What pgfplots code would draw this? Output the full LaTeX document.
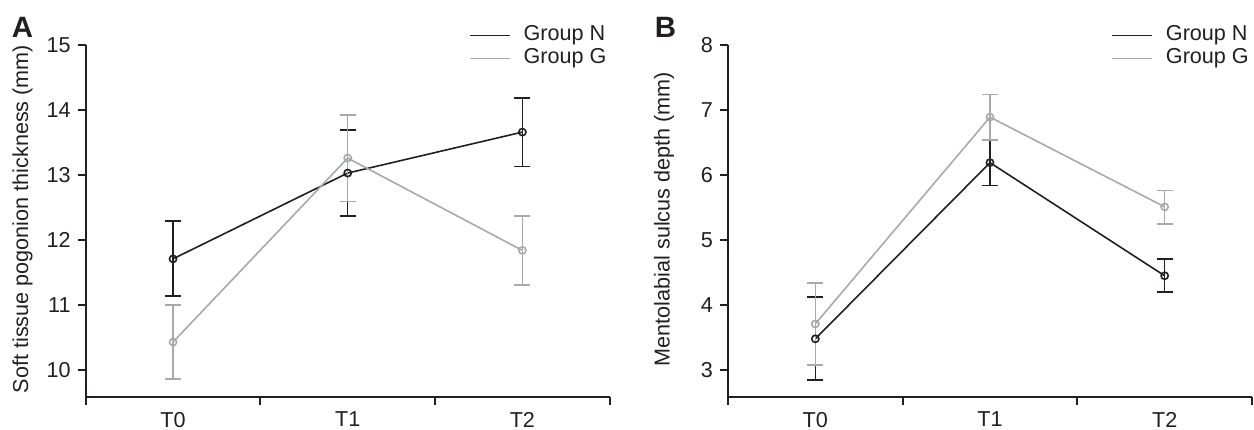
\documentclass[border=0pt]{standalone}
\usepackage{fontspec}
\setmainfont{Liberation Sans}
\usepackage{pgfplots}
\pgfplotsset{compat=1.18}
\usepackage{pgfplotstable}

\definecolor{gn}{HTML}{231F20}
\definecolor{gg}{HTML}{A7A9AC}
\newcommand{\lab}{\fontsize{10.8}{13}\selectfont}

% panel A: soft tissue pogonion thickness
\pgfplotstableread{
x y ep em
0 11.71 0.58 0.57
1 13.03 0.66 0.66
2 13.66 0.52 0.53
}\aN
\pgfplotstableread{
x y ep em
0 10.43 0.57 0.57
1 13.26 0.66 0.67
2 11.84 0.53 0.53
}\aG
% panel B: mentolabial sulcus depth
\pgfplotstableread{
x y ep em
0 3.48 0.64 0.63
1 6.19 0.35 0.35
2 4.45 0.26 0.25
}\bN
\pgfplotstableread{
x y ep em
0 3.71 0.63 0.63
1 6.89 0.35 0.35
2 5.51 0.25 0.26
}\bG

\pgfplotsset{
  panel/.style={
    scale only axis, width=262pt, height=176pt,
    anchor=south west,
    xmin=-0.5, xmax=2.5,
    axis x line=bottom, axis y line=left,
    axis line style={-, line width=0.9pt, color=gn},
    tick align=outside, major tick length=4pt,
    tick style={line width=0.9pt, color=gn},
    xtick={-0.5,0.5,1.5,2.5}, xticklabels={,,,},
    extra x ticks={0,1,2}, extra x tick labels={T0,T1,T2},
    extra x tick style={major tick length=0pt, tick label style={yshift=-4pt}},
    tick label style={font=\lab, text=gn},
    /pgf/number format/assume math mode=true,
    clip=false,
    legend style={draw=none, fill=none, font=\lab, text=gn,
      at={(axis description cs:0.7316,1.06)}, anchor=north west,
      inner sep=0pt, outer sep=0pt, column sep=6pt, row sep=0pt,
      nodes={inner sep=0.5pt, text height=8pt, text depth=2.5pt}},
    legend cell align=left,
    legend image code/.code={\draw[##1,mark=none] (0pt,0pt) -- (20pt,0pt);},
  },
  ser/.style={line width=0.8pt, color=#1, mark=o, mark size=1.8pt,
    mark options={fill=white, solid},
    error bars/.cd, y dir=both, y explicit,
    error mark options={rotate=90, line width=0.8pt, mark size=4pt, color=#1},
    error bar style={line width=0.8pt, color=#1}},
}

\begin{document}
\begin{tikzpicture}
\path[use as bounding box] (0,0) rectangle (627pt,214.5pt);

\begin{axis}[panel, at={(42.85pt,16pt)}, ymin=9.585, ymax=15, ytick={10,...,15}]
\addplot[ser=gn] table[x=x, y=y, y error plus=ep, y error minus=em] {\aN};
\addlegendentry{Group N}
\addplot[ser=gg] table[x=x, y=y, y error plus=ep, y error minus=em] {\aG};
\addlegendentry{Group G}
\end{axis}

\begin{axis}[panel, at={(364pt,16pt)}, ymin=2.585, ymax=8, ytick={3,...,8}]
\addplot[ser=gn] table[x=x, y=y, y error plus=ep, y error minus=em] {\bN};
\addlegendentry{Group N}
\addplot[ser=gg] table[x=x, y=y, y error plus=ep, y error minus=em] {\bG};
\addlegendentry{Group G}
\end{axis}

\node[rotate=90, font=\lab, text=gn] at (11.25pt,105pt) {Soft tissue pogonion thickness (mm)};
\node[rotate=90, font=\lab, text=gn] at (332pt,105pt) {Mentolabial sulcus depth (mm)};
\node[font=\fontsize{14.7}{16}\selectfont\bfseries, text=gn] at (11.25pt,200.75pt) {A};
\node[font=\fontsize{14.7}{16}\selectfont\bfseries, text=gn] at (332.75pt,200.75pt) {B};
\end{tikzpicture}
\end{document}
